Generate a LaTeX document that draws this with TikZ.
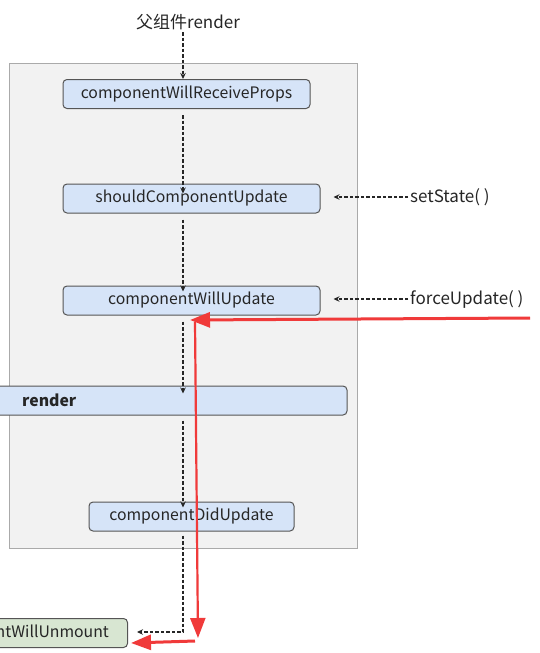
\documentclass[tikz,border=0pt]{standalone}
\usepackage{fontspec}
\setmainfont{Noto Sans CJK SC}
\usetikzlibrary{arrows.meta}
\definecolor{boxblue}{HTML}{D6E4F8}
\definecolor{boxgreen}{HTML}{D8E6D2}
\definecolor{panelgray}{HTML}{F2F2F2}
\definecolor{panelline}{HTML}{AAAAAA}
\definecolor{boxline}{HTML}{555555}
\definecolor{redarrow}{HTML}{F03A3A}
\tikzset{
  lifebox/.style={draw=boxline, line width=1pt, fill=boxblue, rounded corners=4pt, minimum height=29pt, inner sep=0pt, font=\fontsize{15.8}{17}\selectfont, text=black!85},
  endbox/.style={lifebox, fill=boxgreen},
  dashflow/.style={draw=black!85, line width=1.5pt, dash pattern=on 3.5pt off 2pt, -{Stealth[length=6pt,width=5.5pt]}},
  redflow/.style={draw=redarrow, line width=3pt, -{Triangle[length=20pt,width=15pt]}},
  lbl/.style={font=\fontsize{17}{19}\selectfont, text=black!85, inner sep=0pt}
}
\begin{document}
\begin{tikzpicture}[x=1pt,y=-1pt]
\useasboundingbox (0,0) rectangle (539,653);
\clip (0,0) rectangle (539,653);
\fill[white] (0,0) rectangle (539,653);
\draw[panelline, fill=panelgray, line width=0.8pt] (9,63) rectangle (357,548);

\node[lbl] (parent) at (188,22) {父组件render};
\node[lifebox, minimum width=247pt] (cwrp) at (186.5,94) {componentWillReceiveProps};
\node[lifebox, minimum width=257pt] (scu) at (191.5,198.5) {shouldComponentUpdate};
\node[lifebox, minimum width=257pt] (cwu) at (191.5,300.5) {componentWillUpdate};
\node[lifebox, minimum width=367pt] (rnd) at (163.5,400.5) {};
\node[font=\bfseries\fontsize{15.8}{17}\selectfont, anchor=west, inner sep=0pt, text=black!85] (rndt) at (22,400.5) {render};
\node[lifebox, minimum width=205pt] (cdu) at (191.5,516.5) {componentDidUpdate};
\node[endbox, minimum width=220pt, anchor=east] (cwun) at (128,633) {componentWillUnmount};

\node[lbl, anchor=west] (ss) at (410,197) {setState( )};
\node[lbl, anchor=west] (fu) at (410,299) {forceUpdate( )};

\coordinate (c1) at (183,32);
\draw[dashflow] (183,32) -- (cwrp.north -| c1);
\draw[dashflow] (cwrp.south -| c1) ++(0,6) -- ([yshift=-10pt]scu.north -| c1);
\draw[dashflow] (scu.south -| c1) ++(0,6) -- ([yshift=-6pt]cwu.north -| c1);
\draw[dashflow] (cwu.south -| c1) ++(0,6) -- ([yshift=-8pt]rnd.north -| c1);
\draw[dashflow] (rnd.south -| c1) ++(0,5) -- ([yshift=-6pt]cdu.north -| c1);
\coordinate (corner) at (183,632);
\draw[dashflow] (cdu.south -| c1) ++(0,4) -- (corner) -- ([xshift=9pt]cwun.east |- corner);
\draw[dashflow] ([xshift=-2pt]ss.west) -- ([xshift=13pt]scu.east |- ss.west);
\draw[dashflow] ([xshift=-2pt]fu.west) -- ([xshift=13pt]cwu.east |- fu.west);

\coordinate (r1) at (530,318);
\coordinate (r2) at (190,320);
\coordinate (r3) at (195,322);
\coordinate (r4) at (198,638);
\coordinate (r5) at (195,641);
\coordinate (r6) at (131,643);
\draw[redflow] (r1) -- (r2);
\draw[redflow, line width=2.2pt] (r3) -- (r4);
\draw[redflow] (r5) -- (r6);
\end{tikzpicture}
\end{document}
